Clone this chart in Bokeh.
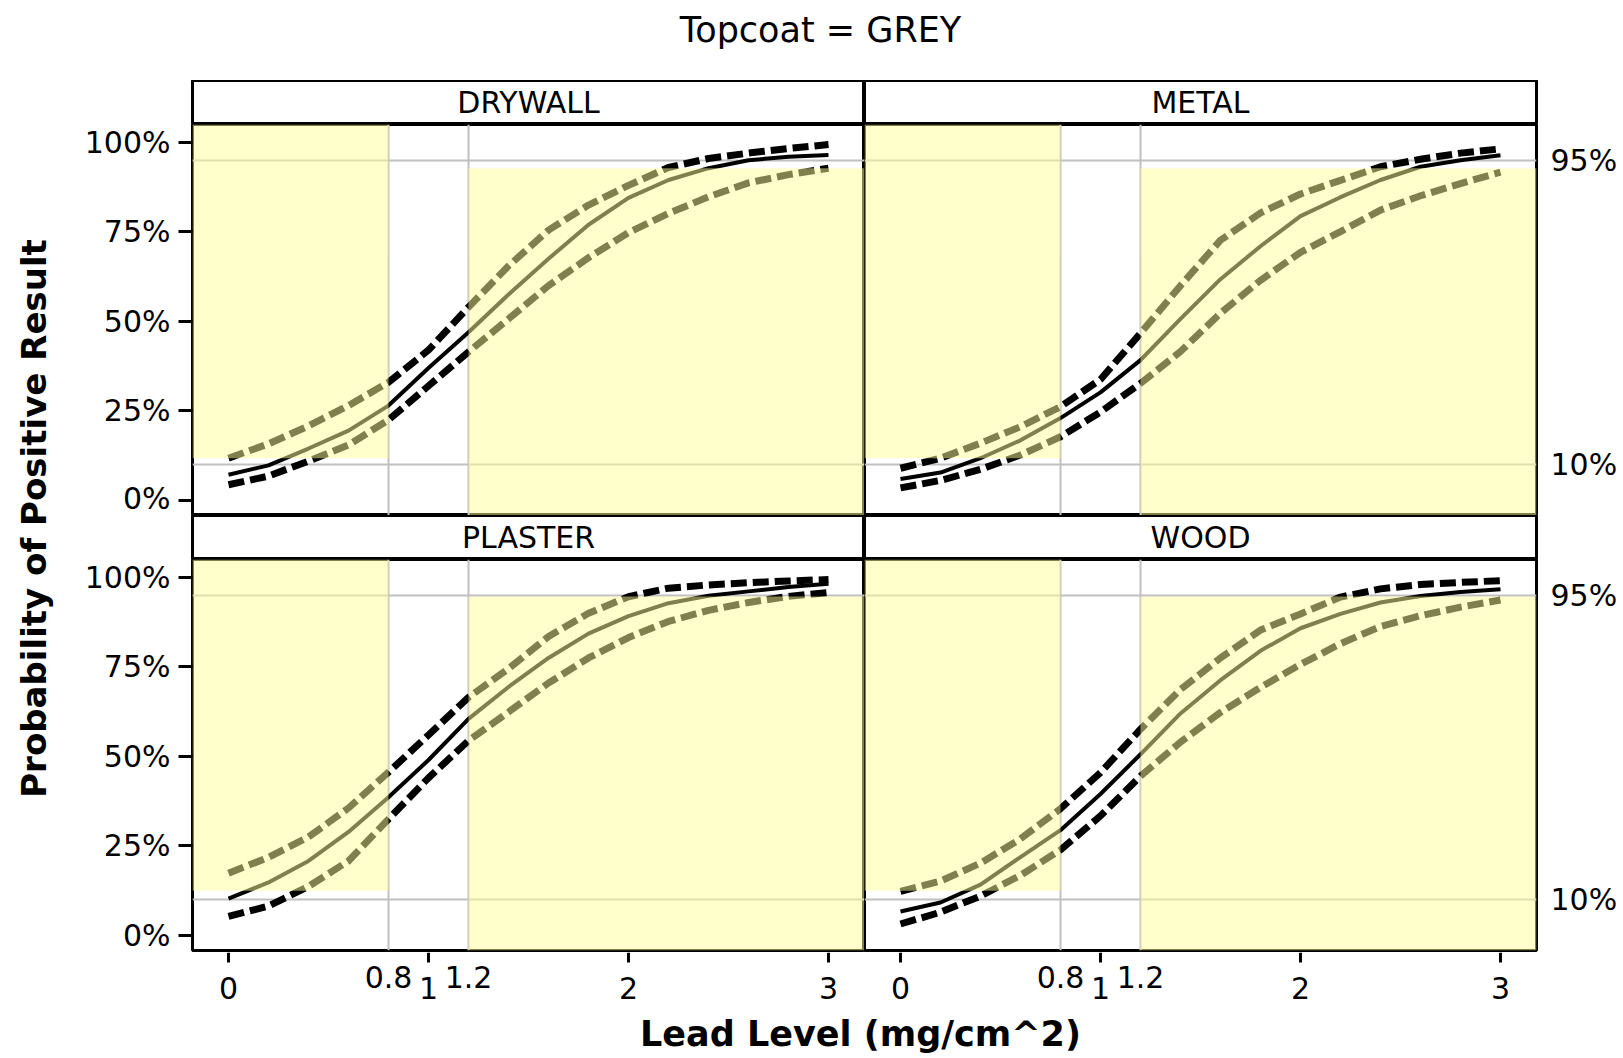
import math
from bokeh.plotting import figure
from bokeh.layouts import row, column
from bokeh.models import FixedTicker, NumeralTickFormatter, LinearAxis, Range1d
from bokeh.core.properties import value
from bokeh.embed import file_html
from bokeh.resources import INLINE

# ---------------- data ----------------
title_text = "Topcoat = GREY"
x_label = "Lead Level (mg/cm^2)"
y_label = "Probability of Positive Result"
panel_names = ["DRYWALL", "METAL", "PLASTER", "WOOD"]

lead = [0.0, 0.2, 0.4, 0.6, 0.8, 1.0, 1.2, 1.4, 1.6, 1.8, 2.0, 2.2, 2.4, 2.6, 2.8, 3.0]

drywall_mean = [7.2, 9.8, 14.5, 19.5, 26.5, 37.0, 47.0, 57.5, 67.5, 77.0, 84.5, 89.5, 92.8, 95.0, 96.0, 96.5]
drywall_upper = [11.8, 15.8, 20.8, 26.5, 33.0, 42.0, 54.0, 65.5, 75.5, 82.5, 88.0, 93.0, 95.5, 97.0, 98.3, 99.4]
drywall_lower = [4.4, 6.8, 11.0, 15.5, 22.5, 32.0, 41.5, 50.7, 60.0, 67.8, 74.8, 80.2, 84.8, 88.7, 91.0, 92.8]

metal_mean = [6.0, 7.8, 11.8, 16.8, 23.0, 30.2, 39.2, 50.7, 61.8, 71.0, 79.4, 84.7, 89.5, 93.2, 95.0, 96.4]
metal_upper = [9.0, 11.8, 16.0, 20.6, 26.2, 33.8, 46.7, 60.0, 72.7, 80.3, 85.6, 89.4, 93.2, 95.3, 97.0, 98.2]
metal_lower = [3.5, 5.6, 8.7, 12.7, 17.8, 24.7, 32.7, 41.6, 52.3, 61.5, 69.3, 75.1, 81.1, 85.1, 88.5, 91.7]

plaster_mean = [10.3, 14.8, 20.8, 28.9, 38.6, 49.0, 60.5, 69.4, 77.5, 84.3, 89.2, 92.8, 94.9, 96.1, 97.3, 98.2]
plaster_upper = [17.4, 21.8, 27.5, 35.6, 45.6, 56.0, 66.5, 74.5, 83.5, 90.0, 94.6, 97.0, 97.9, 98.5, 99.0, 99.4]
plaster_lower = [5.3, 8.2, 13.7, 20.8, 32.5, 44.0, 54.4, 62.4, 70.5, 77.5, 83.2, 87.7, 90.8, 93.0, 94.7, 95.8]

wood_mean = [6.7, 9.2, 14.2, 21.9, 29.4, 39.5, 50.6, 62.0, 71.3, 79.5, 85.8, 89.8, 93.0, 94.8, 95.9, 96.7]
wood_upper = [12.3, 15.2, 20.2, 27.0, 35.4, 45.5, 57.6, 68.7, 77.5, 85.3, 89.8, 94.5, 96.8, 98.0, 98.6, 99.1]
wood_lower = [3.2, 6.5, 11.0, 16.8, 23.9, 33.4, 44.5, 54.0, 62.3, 69.3, 75.7, 81.5, 86.3, 89.3, 91.7, 93.7]

means = [drywall_mean, metal_mean, plaster_mean, wood_mean]
uppers = [drywall_upper, metal_upper, plaster_upper, wood_upper]
lowers = [drywall_lower, metal_lower, plaster_lower, wood_lower]

zone_low = 0.8          # lead level below which zone is shaded
zone_high = 1.2         # lead level above which zone is shaded
left_zone_bottom = [0.118, 0.118, 0.125, 0.125]   # probability where left shaded zone starts
right_zone_top = [0.928, 0.928, 0.947, 0.947]     # probability where right shaded zone ends
ref_probs = [0.10, 0.95]
y_ticks = [0.0, 0.25, 0.5, 0.75, 1.0]
x_ticks = [0, 1, 2, 3]
x_tick_labels = ["0", "1", "2", "3"]
x_ref_ticks = [0.8, 1.2]
x_ref_labels = ["0.8", "1.2"]

# ---------------- style / layout ----------------
FONT = "DejaVu Sans"
TICK_SIZE = "30px"
X_RANGE = (-0.18, 3.18)
Y_RANGE = (-0.042, 1.05)
FRAME_W = 672
FRAME_H = 391
STRIP_H = 44
LEFT_B = 122
RIGHT_B = 85
PANEL_BOTTOM_B = 2
TICKFIG_H = 58
YLAB_W = 70
TOTAL_W = YLAB_W + LEFT_B + 2 * FRAME_W + RIGHT_B
TITLE_H = 80
XLAB_H = 46
GRID_COLOR = "#c0c0c0"
ZONE_COLOR = "#ffff99"

x_ranges = [Range1d(*X_RANGE), Range1d(*X_RANGE)]


def style_axis(ax):
    ax.axis_line_color = None
    ax.major_tick_line_color = "black"
    ax.major_tick_line_width = 3
    ax.minor_tick_line_color = None
    ax.major_label_text_font = FONT
    ax.major_label_text_font_size = TICK_SIZE
    ax.major_label_text_color = "black"


def borders(left):
    return dict(min_border_left=LEFT_B if left else 0,
                min_border_right=0 if left else RIGHT_B)


def make_panel(i):
    col = i % 2
    rw = i // 2
    left = col == 0
    bottom = rw == 1
    w = FRAME_W + (LEFT_B if left else RIGHT_B)
    h = FRAME_H + (PANEL_BOTTOM_B if bottom else 0)
    p = figure(width=w, height=h, x_range=x_ranges[col], y_range=Range1d(*Y_RANGE),
               output_backend="svg", toolbar_location=None,
               x_axis_location=None, y_axis_location=None,
               min_border_top=0, min_border_bottom=PANEL_BOTTOM_B if bottom else 0,
               **borders(left))
    p.background_fill_color = "white"
    p.border_fill_color = "white"
    p.outline_line_color = "black"
    p.outline_line_width = 3
    p.xgrid.ticker = FixedTicker(ticks=x_ref_ticks)
    p.ygrid.ticker = FixedTicker(ticks=ref_probs)
    for g in (p.xgrid, p.ygrid):
        g.grid_line_color = GRID_COLOR
        g.grid_line_width = 2

    if left:
        ay = LinearAxis(ticker=FixedTicker(ticks=y_ticks), formatter=NumeralTickFormatter(format="0%"))
        style_axis(ay)
        ay.major_tick_out = 14
        ay.major_tick_in = 0
        ay.major_label_standoff = 8
        p.add_layout(ay, "left")
    else:
        ar = LinearAxis(ticker=FixedTicker(ticks=ref_probs), formatter=NumeralTickFormatter(format="0%"))
        style_axis(ar)
        ar.major_tick_out = 0
        ar.major_tick_in = 0
        ar.major_label_standoff = 14
        p.add_layout(ar, "right")

    xs = lead
    p.line(xs, [v / 100 for v in means[i]], line_color="black", line_width=4)
    p.line(xs, [v / 100 for v in lowers[i]], line_color="black", line_width=7, line_dash="16 6")
    p.line(xs, [v / 100 for v in uppers[i]], line_color="black", line_width=7, line_dash="16 6")

    p.quad(left=[X_RANGE[0]], right=[zone_low], bottom=[left_zone_bottom[i]], top=[Y_RANGE[1]],
           fill_color=ZONE_COLOR, fill_alpha=0.5, line_color=None)
    p.quad(left=[zone_high], right=[X_RANGE[1]], bottom=[Y_RANGE[0]], top=[right_zone_top[i]],
           fill_color=ZONE_COLOR, fill_alpha=0.5, line_color=None)
    return p


def blank(f):
    f.xgrid.visible = False
    f.ygrid.visible = False
    f.background_fill_color = "white"
    f.border_fill_color = "white"


def make_strip(i):
    left = i % 2 == 0
    w = FRAME_W + (LEFT_B if left else RIGHT_B)
    s = figure(width=w, height=STRIP_H, x_range=Range1d(0, 1), y_range=Range1d(0, 1),
               output_backend="svg", toolbar_location=None,
               x_axis_location=None, y_axis_location=None,
               min_border_top=0, min_border_bottom=0, **borders(left))
    blank(s)
    s.outline_line_color = "black"
    s.outline_line_width = 3
    s.text(x=[0.5], y=[0.5], text=[panel_names[i]], text_align="center", text_baseline="middle",
           text_font=value(FONT), text_font_size="30px", text_color="black")
    return s


def make_tick_fig(col):
    left = col == 0
    w = FRAME_W + (LEFT_B if left else RIGHT_B)
    t = figure(width=w, height=TICKFIG_H, x_range=x_ranges[col], y_range=Range1d(0, TICKFIG_H),
               output_backend="svg", toolbar_location=None,
               x_axis_location=None, y_axis_location=None,
               min_border_top=0, min_border_bottom=0, **borders(left))
    blank(t)
    t.outline_line_color = None
    # tick marks
    t.segment(x0=x_ticks, y0=[TICKFIG_H] * len(x_ticks), x1=x_ticks, y1=[TICKFIG_H - 10] * len(x_ticks),
              line_color="black", line_width=3)
    # tick labels (0,1,2,3) and reference-line labels (0.8, 1.2) staggered above
    t.text(x=x_ticks, y=[23] * len(x_ticks), text=x_tick_labels, text_align="center",
           text_baseline="middle", text_font=value(FONT), text_font_size=TICK_SIZE, text_color="black")
    t.text(x=x_ref_ticks, y=[34] * len(x_ref_ticks), text=x_ref_labels, text_align="center",
           text_baseline="middle", text_font=value(FONT), text_font_size=TICK_SIZE, text_color="black")
    return t


def make_text_fig(w, h, tx, ty, txt, size, bold=False, angle=0.0):
    f = figure(width=w, height=h, x_range=Range1d(0, w), y_range=Range1d(0, h),
               output_backend="svg", toolbar_location=None,
               x_axis_location=None, y_axis_location=None,
               min_border_left=0, min_border_right=0, min_border_top=0, min_border_bottom=0)
    blank(f)
    f.outline_line_color = None
    f.text(x=[tx], y=[ty], text=[txt], angle=angle, text_align="center", text_baseline="middle",
           text_font=value(FONT), text_font_size=size, text_color="black",
           text_font_style="bold" if bold else "normal")
    return f


panels = [make_panel(i) for i in range(4)]
strips = [make_strip(i) for i in range(4)]
tick_figs = [make_tick_fig(0), make_tick_fig(1)]

mid_h = 2 * STRIP_H + 2 * FRAME_H + PANEL_BOTTOM_B + TICKFIG_H
title_fig = make_text_fig(TOTAL_W, TITLE_H, 820, TITLE_H - 29, title_text, "35px")
ylab_fig = make_text_fig(YLAB_W, mid_h, 33, TITLE_H + mid_h - 518, y_label, "34px", bold=True, angle=math.pi / 2)
xlab_fig = make_text_fig(TOTAL_W, XLAB_H, 860, 23, x_label, "35px", bold=True)

grid = column(row(strips[0], strips[1]), row(panels[0], panels[1]),
              row(strips[2], strips[3]), row(panels[2], panels[3]),
              row(tick_figs[0], tick_figs[1]))
root = column(title_fig, row(ylab_fig, grid), xlab_fig)

open("out.html", "w").write(file_html(root, INLINE))
